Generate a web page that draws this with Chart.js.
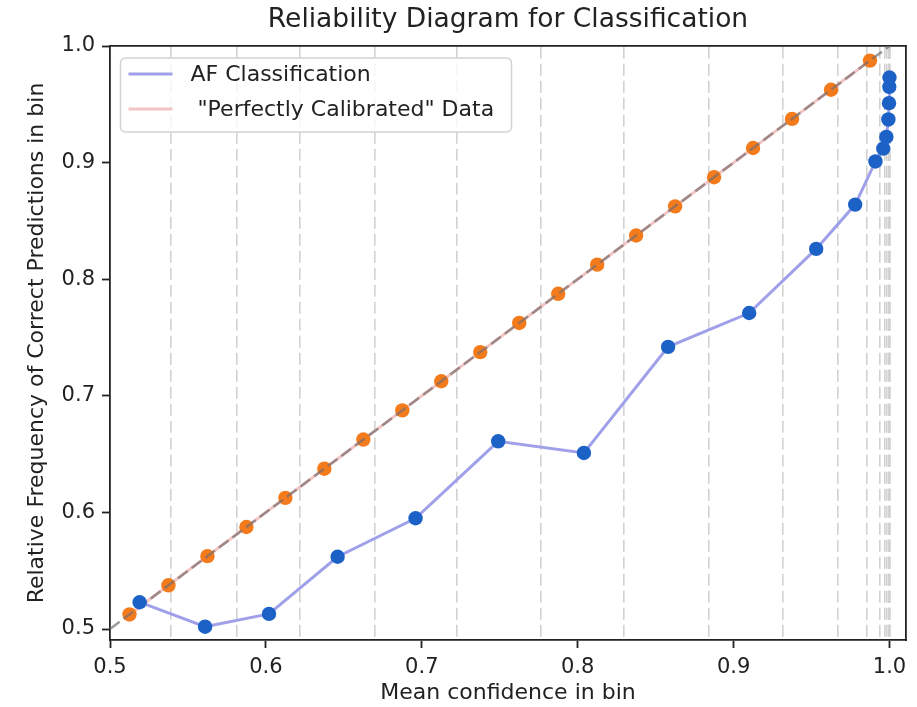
<!DOCTYPE html>
<html>
<head>
<meta charset="utf-8">
<title>Reliability Diagram</title>
<script src="https://cdn.jsdelivr.net/npm/chart.js@4.4.1/dist/chart.umd.min.js"></script>
<style>
  body { margin: 0; background: #fff; }
  canvas { display: block; }
</style>
</head>
<body>
<canvas id="myChart" width="917" height="707"></canvas>
<script>
'use strict';

// values
const binCentres = [0.5125, 0.5375, 0.5625, 0.5875, 0.6125, 0.6375, 0.6625, 0.6875, 0.7125, 0.7375,
  0.7625, 0.7875, 0.8125, 0.8375, 0.8625, 0.8875, 0.9125, 0.9375, 0.9625, 0.9875];
const perfectFreq = [0.5125, 0.5375, 0.5625, 0.5875, 0.6125, 0.6375, 0.6625, 0.6875, 0.7125, 0.7375,
  0.7625, 0.7875, 0.8125, 0.8375, 0.8625, 0.8875, 0.9125, 0.9375, 0.9625, 0.9875];

const afConfidence = [0.519, 0.561, 0.602, 0.646, 0.696, 0.749, 0.804, 0.858, 0.910, 0.953,
  0.978, 0.991, 0.996, 0.998, 0.9993, 0.9997, 0.9999, 1.0];
const afFrequency = [0.523, 0.502, 0.513, 0.562, 0.595, 0.661, 0.651, 0.742, 0.771, 0.826,
  0.864, 0.901, 0.912, 0.922, 0.937, 0.951, 0.965, 0.973];

// bin edges (the grey dashed verticals)
const binEdges = [0.5389, 0.5812, 0.6218, 0.6699, 0.7222, 0.7761, 0.8295, 0.8842, 0.9316, 0.9669,
  0.9857, 0.9936, 0.9968, 0.9984, 0.9993, 0.9997, 0.9999, 1.0];

const diagX = [0.5, 1.0];
const diagY = [0.5, 1.0];

const xTicks = [0.5, 0.6, 0.7, 0.8, 0.9, 1.0];
const yTicks = [0.5, 0.6, 0.7, 0.8, 0.9, 1.0];

const xMin = 0.5;
const xMax = 1.0106;
const yMin = 0.4906;
const yMax = 1.0;

const fontFamily = "'DejaVu Sans', sans-serif";
const ink = '#222';

function toPoints(xs, ys) {
  let pts = [];
  for (let i = 0; i < xs.length; i++) {
    pts.push({ x: xs[i], y: ys[i] });
  }
  return pts;
}

// legend sits inside the plot, top left, like matplotlib's
const legendBox = {
  id: 'legendBox',
  afterDatasetsDraw(chart) {
    const ctx = chart.ctx;
    const area = chart.chartArea;
    const x = area.left + 10.5;
    const y = area.top + 12;
    const w = 391;
    const h = 74;
    const r = 5;
    ctx.save();
    ctx.beginPath();
    ctx.moveTo(x + r, y);
    ctx.lineTo(x + w - r, y);
    ctx.arcTo(x + w, y, x + w, y + r, r);
    ctx.lineTo(x + w, y + h - r);
    ctx.arcTo(x + w, y + h, x + w - r, y + h, r);
    ctx.lineTo(x + r, y + h);
    ctx.arcTo(x, y + h, x, y + h - r, r);
    ctx.lineTo(x, y + r);
    ctx.arcTo(x, y, x + r, y, r);
    ctx.closePath();
    ctx.fillStyle = 'rgba(255,255,255,0.8)';
    ctx.fill();
    ctx.strokeStyle = '#d4d4d4';
    ctx.lineWidth = 1.5;
    ctx.stroke();

    let entries = [chart.data.datasets[0], chart.data.datasets[2]];
    for (let i = 0; i < entries.length; i++) {
      let rowY = y + 16 + i * 35;
      ctx.beginPath();
      ctx.moveTo(x + 8, rowY);
      ctx.lineTo(x + 52, rowY);
      ctx.strokeStyle = entries[i].borderColor;
      ctx.lineWidth = 3;
      ctx.stroke();
      ctx.fillStyle = ink;
      ctx.font = '22px ' + fontFamily;
      ctx.textBaseline = 'middle';
      ctx.textAlign = 'left';
      ctx.fillText(entries[i].label, x + 70, rowY + 1);
    }
    ctx.restore();
  }
};

let chartCanvas = document.getElementById('myChart');

Chart.defaults.font.family = fontFamily;
Chart.defaults.color = ink;

new Chart(chartCanvas, {
  type: 'scatter',
  data: {
    datasets: [{
      label: 'AF Classification',
      data: toPoints(afConfidence, afFrequency),
      showLine: true,
      borderColor: '#a0a0ea',
      borderWidth: 3,
      pointRadius: 7.2,
      pointBackgroundColor: '#1c62c6',
      pointBorderWidth: 0,
      order: 0
    }, {
      label: 'diagonal',
      data: toPoints(diagX, diagY),
      showLine: true,
      borderColor: 'rgba(120,110,110,0.7)',
      borderWidth: 2.5,
      borderDash: [12, 5],
      pointRadius: 0,
      order: 1
    }, {
      label: ' "Perfectly Calibrated" Data',
      data: toPoints(binCentres, perfectFreq),
      showLine: true,
      borderColor: '#f3c4c4',
      borderWidth: 3,
      pointRadius: 7.2,
      pointBackgroundColor: '#f47b1c',
      pointBorderWidth: 0,
      order: 2
    }]
  },
  options: {
    responsive: false,
    animation: false,
    devicePixelRatio: 1,
    layout: { padding: { left: 0, right: 11, top: 0, bottom: 0 } },
    plugins: {
      legend: { display: false },
      tooltip: { enabled: false },
      title: {
        display: true,
        fullSize: false,
        text: 'Reliability Diagram for Classification',
        color: ink,
        font: { size: 26.5, weight: 'normal' },
        padding: { top: 4, bottom: 10.2 }
      }
    },
    scales: {
      x: {
        type: 'linear',
        position: 'bottom',
        min: xMin,
        max: xMax,
        afterBuildTicks: function(scale) {
          scale.ticks = xTicks.map(v => ({ value: v }));
        },
        afterFit: function(scale) { scale.height = 67; },
        ticks: {
          font: { size: 21 },
          color: ink,
          padding: 7,
          maxRotation: 0,
          callback: v => v.toFixed(1)
        },
        grid: { drawOnChartArea: false, tickLength: 8, tickWidth: 1.8, tickColor: ink },
        border: { color: ink, width: 1.8 },
        title: {
          display: true,
          text: 'Mean confidence in bin',
          color: ink,
          font: { size: 22 },
          padding: { top: 0, bottom: 1 }
        }
      },
      xEdges: {
        type: 'linear',
        position: 'top',
        min: xMin,
        max: xMax,
        afterBuildTicks: function(scale) {
          scale.ticks = binEdges.map(v => ({ value: v }));
        },
        afterFit: function(scale) { scale.height = 0; },
        ticks: { display: false },
        grid: { color: '#d2d2d2', lineWidth: 1.6, drawTicks: false },
        border: { color: ink, width: 1.8, dash: [12, 5] }
      },
      y: {
        type: 'linear',
        position: 'left',
        min: yMin,
        max: yMax,
        afterBuildTicks: function(scale) {
          scale.ticks = yTicks.map(v => ({ value: v }));
        },
        afterFit: function(scale) { scale.width = 110; },
        ticks: {
          font: { size: 21 },
          color: ink,
          padding: 7,
          callback: v => v.toFixed(1)
        },
        grid: { drawOnChartArea: false, tickLength: 8, tickWidth: 1.8, tickColor: ink },
        border: { color: ink, width: 1.8 },
        title: {
          display: true,
          text: 'Relative Frequency of Correct Predictions in bin',
          color: ink,
          font: { size: 22 },
          padding: { top: 24, bottom: 0 }
        }
      },
      yRight: {
        type: 'linear',
        position: 'right',
        min: yMin,
        max: yMax,
        afterFit: function(scale) { scale.width = 0; },
        ticks: { display: false },
        grid: { drawOnChartArea: false, drawTicks: false },
        border: { color: ink, width: 1.8 }
      }
    }
  },
  plugins: [legendBox]
});
</script>
</body>
</html>
